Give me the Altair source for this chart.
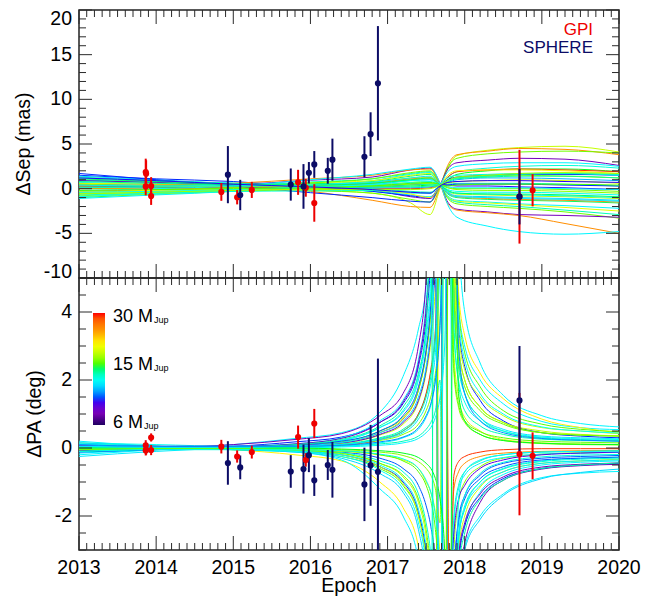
import altair as alt
import pandas as pd
import numpy as np

# ---------------- data ----------------
SEP_EPOCHS = [2013.0, 2014.0, 2015.0, 2016.0, 2016.8, 2017.3, 2017.55, 2017.68,
              2017.78, 2017.9, 2018.3, 2018.7, 2019.3, 2020.0]
SEP_MASS = [17, 24, 15, 7.2, 11, 12, 14, 29, 8.7, 15.5, 10, 17.5, 12.5, 8.5, 15,
            11.5, 16.5, 10.5, 13.5, 24, 11, 18, 12.5, 15, 7.2, 24, 11, 8.7, 19.5, 12,
            13, 11, 15.5, 11.5, 12.5, 14.5, 10.8, 13.5, 16, 8.5]
SEP_CURVES = [
    [0.2, 0.25, 0.3, -0.15, -0.5, -1.6, -2.9, 0.0, 2.2, 3.7, 4.3, 4.6, 4.75, 4.1],
    [0.6, 0.5, 0.3, -0.3, -1.3, -2.0, -2.1, 0.2, 2.6, 3.8, 4.2, 4.5, 4.4, 3.8],
    [0.0, 0.1, 0.2, -0.2, -0.5, -1.2, -1.5, 0.3, 2.4, 3.4, 3.9, 4.1, 4.2, 4.0],
    [-0.3, -0.1, 0.2, 0.0, -0.2, -0.9, -1.1, 0.4, 2.2, 2.9, 3.2, 3.4, 3.3, 2.6],
    [0.9, 0.8, 0.6, 0.1, -0.3, -0.7, -0.9, 0.4, 1.9, 2.5, 2.8, 2.9, 2.9, 2.5],
    [1.2, 0.9, 0.5, 0.1, -0.2, -0.5, -0.5, 0.4, 1.3, 1.9, 2.3, 2.5, 2.6, 2.3],
    [-1.0, -0.6, -0.3, -0.05, 0.2, 0.3, 0.4, 0.5, 1.0, 1.6, 2.0, 2.2, 2.2, 1.9],
    [0.4, 0.3, 0.2, 0.1, 0.0, 0.0, 0.1, 0.4, 1.3, 1.9, 2.1, 2.2, 2.1, 1.9],
    [1.5, 1.1, 0.8, 0.2, -0.3, -0.8, -1.0, 0.3, 1.0, 1.3, 1.5, 1.6, 1.6, 1.5],
    [-0.8, -0.5, -0.2, 0.0, 0.2, 0.4, 0.5, 0.5, 0.9, 1.2, 1.4, 1.5, 1.4, 1.2],
    [0.5, 0.4, 0.3, 0.2, 0.1, 0.1, 0.2, 0.4, 0.7, 1.0, 1.2, 1.2, 1.1, 0.9],
    [-0.5, -0.3, -0.1, 0.15, 0.4, 0.7, 0.8, 0.5, 0.6, 0.8, 0.9, 1.0, 0.9, 0.6],
    [1.0, 0.7, 0.4, 0.35, 0.3, 0.4, 0.5, 0.5, 0.5, 0.6, 0.6, 0.6, 0.5, 0.3],
    [0.2, 0.2, 0.2, 0.25, 0.3, 0.5, 0.6, 0.5, 0.4, 0.3, 0.3, 0.2, 0.1, -0.1],
    [-0.6, -0.4, -0.2, 0.25, 0.6, 1.0, 1.1, 0.5, 0.1, 0.0, 0.0, 0.0, -0.1, -0.3],
    [0.7, 0.5, 0.3, 0.35, 0.4, 0.7, 0.8, 0.4, -0.1, -0.3, -0.4, -0.4, -0.5, -0.7],
    [-0.9, -0.6, -0.3, 0.25, 0.7, 1.2, 1.3, 0.5, -0.3, -0.6, -0.7, -0.8, -0.9, -1.1],
    [1.4, 1.0, 0.6, 0.55, 0.5, 0.9, 1.0, 0.4, -0.4, -0.8, -0.9, -1.0, -1.1, -1.3],
    [0.3, 0.3, 0.3, 0.55, 0.8, 1.4, 1.6, 0.5, -0.6, -1.0, -1.2, -1.3, -1.4, -1.6],
    [0.0, 0.0, 0.1, 0.35, 0.6, 1.1, 1.2, 0.4, -0.5, -0.9, -1.1, -1.2, -1.3, -1.5],
    [-1.1, -0.7, -0.3, 0.35, 0.9, 1.6, 1.8, 0.5, -0.8, -1.3, -1.5, -1.7, -1.9, -2.2],
    [0.6, 0.5, 0.4, 0.65, 0.9, 1.5, 1.7, 0.4, -0.9, -1.4, -1.6, -1.8, -2.1, -2.5],
    [0.1, 0.2, 0.3, 0.75, 1.1, 1.7, 1.9, 0.5, -1.0, -1.5, -1.8, -2.0, -2.4, -2.9],
    [-0.4, -0.2, 0.1, 0.65, 1.1, 1.8, 2.0, 0.5, -1.1, -1.7, -2.0, -2.2, -2.6, -3.3],
    [0.9, 0.7, 0.5, 0.95, 1.3, 2.1, 2.3, 0.6, -1.5, -2.3, -2.6, -2.9, -3.0, -3.2],
    [0.3, 0.4, 0.6, 1.1, 1.5, 2.1, 2.2, 0.5, -1.7, -2.4, -2.7, -3.0, -3.9, -5.0],
    [-0.2, 0.0, 0.3, 1.0, 1.6, 2.2, 2.4, 0.6, -1.8, -3.2, -4.2, -4.8, -5.1, -4.8],
    [1.7, 1.0, 0.3, -0.45, -1.0, -1.4, -1.5, 0.2, 0.4, 0.5, 0.5, 0.5, 0.4, 0.3],
    [-0.3, -0.2, -0.1, -0.15, -0.2, -0.6, -1.0, 0.3, 1.5, 2.0, 2.1, 2.1, 2.0, 1.7],
    [-0.7, -0.5, -0.3, -0.25, -0.2, -0.4, -0.5, 0.4, 1.2, 1.5, 1.6, 1.7, 1.7, 1.5],
    [0.8, 0.6, 0.4, 0.3, 0.2, 0.2, 0.3, 0.4, 0.8, 1.1, 1.3, 1.4, 1.4, 1.2],
    [-0.4, -0.3, -0.1, 0.1, 0.3, 0.5, 0.6, 0.4, 0.2, 0.1, 0.1, 0.1, 0.0, -0.1],
    [0.5, 0.3, 0.2, 0.2, 0.3, 0.5, 0.6, 0.5, 0.1, -0.1, -0.2, -0.2, -0.3, -0.5],
    [-0.9, -0.5, -0.1, 0.2, 0.5, 0.9, 1.0, 0.4, -0.3, -0.5, -0.6, -0.7, -0.8, -1.0],
    [1.3, 0.9, 0.6, 0.3, 0.0, -0.3, -0.4, 0.4, 0.9, 1.2, 1.4, 1.6, 1.7, 1.6],
    [-0.2, -0.1, 0.0, 0.1, 0.3, 0.6, 0.7, 0.5, 0.3, 0.4, 0.5, 0.5, 0.5, 0.4],
    [0.4, 0.3, 0.3, 0.4, 0.7, 1.2, 1.4, 0.5, -0.5, -0.9, -1.0, -1.1, -1.2, -1.4],
    [1.1, 0.8, 0.5, 0.4, 0.6, 1.0, 1.2, 0.4, -0.2, -0.5, -0.6, -0.6, -0.7, -0.9],
    [-0.6, -0.4, -0.2, -0.1, -0.1, -0.1, 0.0, 0.4, 0.9, 1.3, 1.5, 1.7, 1.8, 1.7],
    [1.2, 0.9, 0.5, 0.2, -0.1, -0.4, -0.5, 0.3, 0.7, 0.8, 0.9, 0.9, 0.8, 0.7],
]

PA_EPOCHS = [2013.0, 2014.0, 2015.0, 2015.8, 2016.4, 2016.9, 2017.2, 2017.4,
             2017.5, 2017.56, 2017.62, 2017.68, 2017.74, 2017.8, 2017.86, 2017.92,
             2018.0, 2018.2, 2018.5, 2019.0, 2019.5, 2020.0]
PA_MASS = [11, 19.5, 7.2, 11, 8.7, 14.7, 11, 17, 12.5, 9, 15.5, 17.5, 11.5, 24, 29, 11,
           10.5, 8.7, 14.7, 17, 12.5, 15.5, 9, 11.5, 7.2, 11, 14.7, 17, 12, 12.5, 8, 10.8,
           11.3, 12.8, 11, 14, 10.8, 15, 9.5, 11.8]
PA_CURVES = [
    [-0.2, -0.05, 0.1, 0.28, 0.45, 1.05, 2.1, 3.5, 4.8, 7, 12, 12, 12, 12, 9, 4.2, 3.0, 2.0, 1.3, 0.78, 0.6, 0.54],
    [0.15, 0.05, -0.05, -0.2, -0.38, -1.0, -1.75, -2.9, -4.5, -7, -12, 12, 12, 12, 9, 4.6, 3.3, 2.2, 1.45, 0.85, 0.6, 0.45],
    [-0.1, 0.0, 0.1, 0.25, 0.42, 0.95, 1.6, 3.0, 5.0, 8, 12, -12, -12, -12, -6, -3.8, -2.8, -1.6, -0.95, -0.62, -0.52, -0.48],
    [0.2, 0.05, -0.05, -0.12, -0.35, -1.2, -2.0, -3.3, -5.0, -8, -12, -12, -12, -12, -12, -5.0, -2.9, -2.0, -1.35, -0.87, -0.74, -0.69],
    [-0.05, 0.0, 0.05, 0.18, 0.32, 0.75, 1.3, 2.4, 3.8, 5.5, 9, 12, 12, 12, 6, 3.6, 2.4, 1.4, 0.8, 0.45, 0.35, 0.3],
    [0.05, 0.0, -0.05, -0.1, -0.25, -0.6, -1.1, -2.0, -3.3, -5, -9, -12, 12, 12, 5, 3.0, 2.0, 1.2, 0.75, 0.45, 0.38, 0.35],
    [0.1, 0.05, 0.0, 0.08, 0.22, 0.6, 1.05, 2.0, 3.2, 4.6, 7, 12, -12, -12, -5.5, -3.3, -2.3, -1.3, -0.78, -0.5, -0.42, -0.38],
    [0.0, 0.0, 0.0, -0.05, -0.15, -0.45, -0.85, -1.6, -2.6, -3.8, -6, -12, -12, -12, -5, -3.0, -2.0, -1.15, -0.7, -0.45, -0.38, -0.33],
    [-0.1, -0.05, 0.0, 0.05, 0.12, 0.3, 0.55, 1.0, 1.6, 2.2, 3.2, 6, 12, 12, 4.5, 2.4, 1.6, 0.9, 0.5, 0.3, 0.25, 0.22],
    [0.1, 0.05, 0.0, -0.05, -0.12, -0.3, -0.6, -1.1, -1.7, -2.3, -3.4, -6.5, -12, -12, -4.0, -2.1, -1.4, -0.8, -0.45, -0.3, -0.25, -0.22],
    [0.0, 0.0, 0.02, 0.05, 0.1, 0.22, 0.4, 0.7, 1.1, 1.5, 2.2, 3.8, 9, -12, -3.0, -1.6, -1.0, -0.55, -0.3, -0.18, -0.14, -0.12],
    [-0.05, -0.02, 0.0, -0.05, -0.1, -0.2, -0.35, -0.6, -1.0, -1.3, -1.9, -3.2, -8, 12, 2.8, 1.5, 0.9, 0.5, 0.25, 0.15, 0.12, 0.1],
    [0.15, 0.1, 0.05, 0.1, 0.22, 0.6, 1.1, 2.1, 3.4, 5, 9, -12, -12, -8, -4.2, -2.6, -1.8, -1.0, -0.6, -0.38, -0.3, -0.27],
    [0.0, 0.0, 0.0, 0.05, 0.15, 0.45, 0.85, 1.7, 2.8, 4.0, 6.5, 12, 12, -4, -1.2, -0.7, -0.45, -0.25, -0.15, -0.1, -0.08, -0.07],
    [0.0, 0.0, 0.0, 0.02, 0.08, 0.25, 0.5, 1.0, 1.6, 2.3, 3.5, 7, 12, -6, -0.8, -0.4, -0.25, -0.12, -0.05, -0.02, -0.02, -0.02],
    [-0.15, -0.05, 0.05, 0.12, 0.3, 0.8, 1.4, 2.6, 4.3, 6.5, 12, 12, 12, 12, 12, 6.5, 4.0, 2.5, 1.55, 0.95, 0.72, 0.62],
    [0.15, 0.05, -0.05, -0.12, -0.3, -0.75, -1.3, -2.4, -3.9, -6, -12, -12, -12, -12, -9, -4.4, -3.0, -2.1, -1.4, -0.9, -0.72, -0.62],
    [0.05, 0.0, -0.02, -0.08, -0.2, -0.55, -1.0, -1.9, -3.1, -4.6, -8, -12, -12, -12, -6, -3.4, -2.3, -1.45, -0.9, -0.6, -0.5, -0.45],
    [0.0, 0.0, 0.02, 0.08, 0.18, 0.5, 0.9, 1.7, 2.8, 4.0, 6.5, 12, 12, 12, 8, 4.2, 2.8, 1.8, 1.1, 0.7, 0.55, 0.48],
    [0.1, 0.05, 0.0, -0.05, -0.2, -0.55, -1.05, -2.0, -3.3, -4.8, -8, -12, -12, 12, 6, 3.4, 2.3, 1.5, 0.95, 0.6, 0.5, 0.42],
    [0.05, 0.02, 0.0, 0.0, 0.05, 0.12, 0.2, 0.35, 0.55, 0.75, 1.1, 2.0, -12, -6, -2.0, -1.1, -0.7, -0.38, -0.2, -0.12, -0.1, -0.08],
    [-0.05, -0.02, 0.0, 0.0, -0.05, -0.12, -0.22, -0.4, -0.6, -0.8, -1.2, -2.2, 12, 6, 2.2, 1.2, 0.75, 0.4, 0.22, 0.13, 0.1, 0.09],
    [-0.12, -0.05, 0.02, 0.1, 0.2, 0.5, 0.95, 1.8, 2.9, 4.2, 6.5, 12, -12, -8, -3.8, -2.2, -1.5, -0.9, -0.55, -0.35, -0.3, -0.27],
    [0.12, 0.05, -0.02, -0.08, -0.2, -0.5, -0.95, -1.8, -2.9, -4.2, -6.5, -12, 12, 7, 3.4, 2.0, 1.35, 0.8, 0.5, 0.32, 0.27, 0.25],
    [-0.08, -0.02, 0.03, 0.12, 0.28, 0.75, 1.35, 2.5, 4.1, 6, 10, 12, 12, -12, -5.5, -3.2, -2.2, -1.35, -0.85, -0.56, -0.48, -0.44],
    [0.0, 0.0, 0.0, 0.02, 0.06, 0.15, 0.3, 0.55, 0.9, 1.25, 2.0, 3.6, 8, -12, -2.2, -1.2, -0.8, -0.45, -0.28, -0.18, -0.15, -0.13],
    [0.0, 0.0, 0.0, -0.03, -0.08, -0.2, -0.38, -0.7, -1.1, -1.55, -2.4, -4.4, -10, 12, 2.4, 1.3, 0.8, 0.48, 0.3, 0.2, 0.17, 0.15],
    [-0.02, 0.0, 0.02, 0.06, 0.14, 0.38, 0.7, 1.35, 2.2, 3.1, 4.8, 9, 12, 12, 5.5, 3.0, 2.0, 1.2, 0.75, 0.5, 0.4, 0.36],
    [0.02, 0.0, -0.02, -0.06, -0.14, -0.38, -0.7, -1.35, -2.2, -3.1, -4.8, -9, -12, -12, -5, -2.8, -1.7, -1.0, -0.62, -0.4, -0.33, -0.3],
    [-0.05, -0.02, 0.0, 0.03, 0.1, 0.28, 0.5, 0.95, 1.5, 2.1, 3.4, 6.5, 12, 12, 3.6, 1.9, 1.1, 0.65, 0.4, 0.26, 0.22, 0.2],
    [0.08, 0.05, 0.05, 0.08, 0.15, 0.4, 0.75, 1.4, 2.3, 3.3, 5.0, -12, -12, -5, -2.5, -1.5, -1.1, -0.6, -0.35, -0.2, -0.15, -0.12],
    [-0.25, -0.1, 0.0, 0.05, 0.1, 0.25, 0.45, 0.85, 1.3, 1.9, 2.8, 5.5, 12, 12, 4.5, 2.6, 1.6, 0.9, 0.55, 0.35, 0.3, 0.27],
    [0.1, 0.03, -0.03, -0.1, -0.25, -0.65, -1.2, -2.2, -3.6, -6, 12, 12, 12, 12, 7, 3.8, 2.6, 1.6, 1.0, 0.62, 0.5, 0.44],
    [-0.1, -0.03, 0.03, 0.1, 0.25, 0.65, 1.2, 2.2, 3.6, 6, -12, -12, -12, -12, -7, -3.6, -2.5, -1.5, -0.95, -0.6, -0.5, -0.44],
    [0.0, 0.0, 0.0, 0.0, 0.03, 0.08, 0.15, 0.28, 0.45, 0.6, 0.9, 1.5, 3.0, 12, -12, -1.5, -0.7, -0.35, -0.2, -0.12, -0.1, -0.09],
    [0.0, 0.0, 0.0, 0.0, -0.03, -0.08, -0.15, -0.28, -0.45, -0.6, -0.9, -1.5, -3.0, -12, 12, 1.6, 0.8, 0.4, 0.22, 0.14, 0.11, 0.1],
    [0.05, 0.02, 0.02, 0.06, 0.16, 0.45, 0.8, 1.5, 2.4, 3.5, 5.5, -12, -12, -12, -4.5, -2.6, -1.8, -1.1, -0.7, -0.45, -0.38, -0.35],
    [-0.05, -0.02, -0.02, -0.06, -0.16, -0.45, -0.8, -1.5, -2.4, -3.5, -5.5, 12, 12, 12, 4.5, 2.6, 1.8, 1.1, 0.7, 0.45, 0.38, 0.35],
    [0.1, 0.05, 0.05, 0.05, 0.08, 0.18, 0.32, 0.6, 0.95, 1.3, 2.0, 3.6, 8, 12, 12, 3.0, 1.6, 0.8, 0.45, 0.28, 0.23, 0.2],
    [-0.1, -0.05, -0.05, -0.05, -0.08, -0.18, -0.32, -0.6, -0.95, -1.3, -2.0, -3.6, -8, -12, -12, -2.6, -1.4, -0.75, -0.42, -0.26, -0.21, -0.19],
]

GPI_EPOCH = [2013.865, 2013.87, 2013.865, 2013.935, 2013.935, 2014.845, 2015.05, 2015.24,
             2015.84, 2015.94, 2016.05, 2018.71, 2018.88]
GPI_SEP = [1.86, 1.68, 0.25, 0.29, -0.82, -0.36, -0.96, -0.14, 0.71, 0.10, -1.60, -0.90, -0.18]
GPI_SEP_ERR = [1.5, 1.5, 1.0, 1.0, 1.0, 1.0, 0.8, 0.9, 1.4, 1.0, 2.1, 5.25, 1.8]
GPI_PA = [0.08, -0.05, -0.07, -0.06, 0.31, 0.04, -0.25, -0.12, 0.32, -0.35, 0.72, -0.18, -0.23]
GPI_PA_ERR = [0.15, 0.15, 0.15, 0.15, 0.12, 0.2, 0.18, 0.19, 0.34, 0.2, 0.43, 1.8, 0.69]

SPH_EPOCH = [2014.93, 2015.09, 2015.745, 2015.91, 2015.98, 2016.05, 2016.225, 2016.285,
             2016.70, 2016.78, 2016.875, 2018.71]
SPH_SEP = [1.57, -0.71, 0.46, 0.25, 1.78, 2.71, 2.0, 3.25, 3.57, 6.1, 11.8, -0.9]
SPH_SEP_ERR = [3.2, 1.7, 1.8, 2.5, 1.2, 1.5, 1.45, 2.35, 2.3, 2.45, 6.4, 3.1]
SPH_PA = [-0.44, -0.57, -0.69, -0.62, -0.21, -0.95, -0.5, -0.64, -1.07, -0.51, -0.7, 1.4]
SPH_PA_ERR = [0.64, 0.35, 0.48, 0.72, 0.5, 0.46, 0.44, 0.82, 1.08, 1.19, 3.33, 1.6]

MASS_LABELS = ["30", "15", "6"]

YEARS = list(range(2013, 2021))
X_MINOR = [round(2013 + i / 10.0, 1) for i in range(71) if i % 10]
SEP_MAJOR = [-10, -5, 0, 5, 10, 15, 20]
SEP_MINOR = [v for v in range(-10, 21) if v % 5]
PA_MAJOR = [-2, 0, 2, 4]
PA_MINOR = [v / 2 for v in range(-6, 11) if v % 4]

# ---------------- styles ----------------
FONT = "Liberation Sans"
RED = "#ee0000"
NAVY = "#0c0c66"
TICK = "#2a2a2a"
FS = 19.5
CB_POS = [0, 0.1, 0.225, 0.385, 0.53, 0.72, 0.84, 1.0]
CB_COL = ["#000000", "#7800b4", "#0000ff", "#00ffff", "#00ff00", "#ffff00", "#ff9a00", "#ff0000"]
W = 540
XDOM = [2013, 2020]


def curves_df(epochs, masses, curves):
    rows = []
    for i, (m, vals) in enumerate(zip(masses, curves)):
        for t, v in zip(epochs, vals):
            rows.append({"curve": i, "epoch": t, "value": v, "mass": m})
    df = pd.DataFrame(rows)
    df["cpos"] = np.log(df["mass"] / 6.0) / np.log(5.0)
    return df


def pts_df(epoch, val, err):
    df = pd.DataFrame({"epoch": epoch, "value": val, "err": err})
    df["lo"] = df["value"] - df["err"]
    df["hi"] = df["value"] + df["err"]
    return df


def tick_layers(xs, ys, ydom, h, ymaj, ymin):
    # inward ticks on all four sides, drawn as rules whose ends go through the scales
    out = []
    yspan = ydom[1] - ydom[0]
    xspan = XDOM[1] - XDOM[0]
    for vals, L in [(YEARS, 14), (X_MINOR, 7)]:
        dy = L * yspan / h
        for edge, inner in [(ydom[1], ydom[1] - dy), (ydom[0], ydom[0] + dy)]:
            df = pd.DataFrame({"tx": vals, "ya": [edge] * len(vals), "yb": [inner] * len(vals)})
            out.append(alt.Chart(df).mark_rule(color=TICK, strokeWidth=1).encode(
                x=alt.X("tx:Q", scale=xs, axis=None),
                y=alt.Y("ya:Q", scale=ys, axis=None), y2="yb:Q"))
    for vals, L in [(ymaj, 13), (ymin, 7)]:
        dx = L * xspan / W
        for edge, inner in [(XDOM[0], XDOM[0] + dx), (XDOM[1], XDOM[1] - dx)]:
            df = pd.DataFrame({"ty": vals, "xa": [edge] * len(vals), "xb": [inner] * len(vals)})
            out.append(alt.Chart(df).mark_rule(color=TICK, strokeWidth=1).encode(
                y=alt.Y("ty:Q", scale=ys, axis=None),
                x=alt.X("xa:Q", scale=xs, axis=None), x2="xb:Q"))
    return out


def text_mark(**kw):
    return dict(font=FONT, fontSize=FS, color="#000", **kw)


def label_layers(xs, ys, ydom, h, ymaj, ytitle, title_x, bottom, flush):
    out = []
    inner = [v for v in ymaj if not (flush and v in ydom)]
    groups = [(inner, "middle")]
    if flush:
        groups += [([ydom[1]], "top"), ([ydom[0]], "alphabetic")]
    for vals, bl in groups:
        df = pd.DataFrame({"v": vals, "label": [str(v) for v in vals]})
        out.append(alt.Chart(df).mark_text(**text_mark(align="right", baseline=bl)).encode(
            x=alt.value(-7), y=alt.Y("v:Q", scale=ys, axis=None), text="label:N"))
    out.append(alt.Chart(alt.Data(values=[{}])).mark_text(
        **text_mark(align="center", baseline="middle", angle=270)).encode(
        x=alt.value(title_x), y=alt.value(h / 2), text=alt.value(ytitle)))
    if bottom:
        df = pd.DataFrame({"t": YEARS, "label": [str(v) for v in YEARS]})
        out.append(alt.Chart(df).mark_text(**text_mark(align="center", baseline="alphabetic")).encode(
            x=alt.X("t:Q", scale=xs, axis=None), y=alt.value(h + 24), text="label:N"))
        out.append(alt.Chart(alt.Data(values=[{}])).mark_text(
            **text_mark(align="center", baseline="alphabetic")).encode(
            x=alt.value(W / 2), y=alt.value(h + 42), text=alt.value("Epoch")))
    return out


def panel(cdf, gdf, sdf, ydom, ymaj, ymin, ytitle, title_x, h, bottom, flush, legend, texts):
    xs = alt.Scale(domain=XDOM, nice=False, zero=False)
    ys = alt.Scale(domain=ydom, nice=False, zero=False)
    xe = alt.X("epoch:Q", scale=xs, axis=None)

    color = alt.Color("cpos:Q", scale=alt.Scale(domain=CB_POS, range=CB_COL), legend=legend)
    curves = alt.Chart(cdf).mark_line(clip=True, strokeWidth=1, interpolate="monotone").encode(
        x=xe, y=alt.Y("value:Q", scale=ys, axis=None), color=color, detail="curve:N")
    err_g = alt.Chart(gdf).mark_rule(clip=True, color=RED, strokeWidth=2).encode(
        x=xe, y=alt.Y("lo:Q", scale=ys, axis=None), y2="hi:Q")
    err_s = alt.Chart(sdf).mark_rule(clip=True, color=NAVY, strokeWidth=2).encode(
        x=xe, y=alt.Y("lo:Q", scale=ys, axis=None), y2="hi:Q")
    pts_g = alt.Chart(gdf).mark_circle(clip=True, color=RED, opacity=1, size=38).encode(
        x=xe, y=alt.Y("value:Q", scale=ys, axis=None))
    pts_s = alt.Chart(sdf).mark_circle(clip=True, color=NAVY, opacity=1, size=38).encode(
        x=xe, y=alt.Y("value:Q", scale=ys, axis=None))
    layers = ([curves, err_g, err_s, pts_g, pts_s]
              + tick_layers(xs, ys, ydom, h, ymaj, ymin)
              + label_layers(xs, ys, ydom, h, ymaj, ytitle, title_x, bottom, flush)
              + texts)
    return alt.layer(*layers).properties(width=W, height=h)


def txt(text, x, y, size, color="#000", align="left"):
    return alt.Chart(alt.Data(values=[{}])).mark_text(
        font=FONT, fontSize=size, color=color, align=align, baseline="alphabetic"
    ).encode(x=alt.value(x), y=alt.value(y), text=alt.value(text))


sep_c = curves_df(SEP_EPOCHS, SEP_MASS, SEP_CURVES)
pa_c = curves_df(PA_EPOCHS, PA_MASS, PA_CURVES)

top_texts = [txt("GPI", 514, 25, 17, RED, "right"), txt("SPHERE", 514, 43, 17, NAVY, "right")]
bot_texts = []
for lbl, yb in zip(MASS_LABELS, [44, 92, 150]):
    bot_texts.append(txt(lbl + " M", 34, yb, 18))
    wm = 40 if len(lbl) == 2 else 30
    bot_texts.append(txt("Jup", 34 + wm + 1, yb + 1, 9))

legend = alt.Legend(orient="none", legendX=14, legendY=35, direction="vertical",
                    gradientLength=112, gradientThickness=12, labelExpr="''", title=None,
                    gradientStrokeWidth=0, padding=0)

top = panel(sep_c, pts_df(GPI_EPOCH, GPI_SEP, GPI_SEP_ERR), pts_df(SPH_EPOCH, SPH_SEP, SPH_SEP_ERR),
            [-10, 20], SEP_MAJOR, SEP_MINOR, "ΔSep (mas)", -55, 268, False, True, None, top_texts)
bottom = panel(pa_c, pts_df(GPI_EPOCH, GPI_PA, GPI_PA_ERR), pts_df(SPH_EPOCH, SPH_PA, SPH_PA_ERR),
               [-3, 5], PA_MAJOR, PA_MINOR, "ΔPA (deg)", -44, 272, True, False, legend, bot_texts)

chart = alt.vconcat(top, bottom, spacing=0, bounds="flush").resolve_scale(
    color="independent"
).properties(
    padding={"left": 5, "top": 0, "right": 4, "bottom": 0}
).configure(font=FONT).configure_view(stroke="#222", strokeWidth=1.5)

chart.save("out.html", embed_options={"renderer": "svg", "actions": False})
